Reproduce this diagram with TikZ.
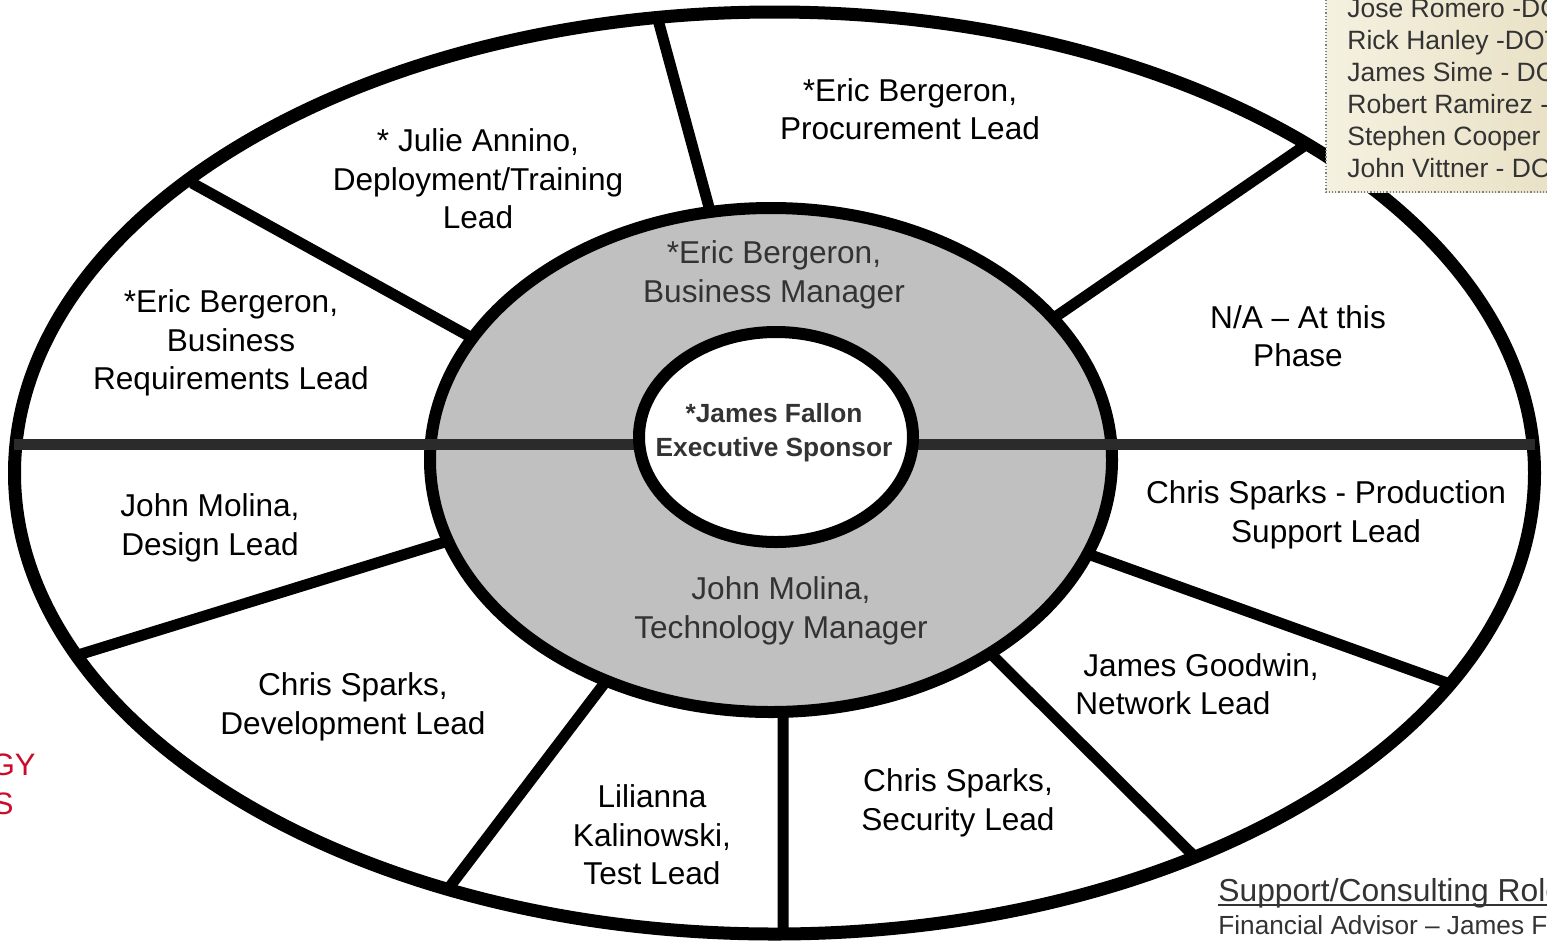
\documentclass[tikz,border=0pt]{standalone}
\usepackage{fontspec}
\setmainfont{Liberation Sans}
\usepackage{tikz}
\definecolor{grau}{HTML}{C0C0C0}
\definecolor{dunkel}{HTML}{2B2B2B}
\definecolor{schrift}{HTML}{333333}
\definecolor{rot}{HTML}{CC0A2A}
\definecolor{beigeA}{HTML}{F5F1E0}
\definecolor{beigeB}{HTML}{E8E0C4}

\begin{document}
\begin{tikzpicture}[x=0.5pt,y=-0.5pt]
\tikzstyle{every node}=[font=\fontsize{15.8}{19.25}\selectfont, align=center, inner sep=0pt]

%Rahmen
\fill[white] (0,0) rectangle (1547,944);
\useasboundingbox (0,0) rectangle (1547,944);

%Speichen
\coordinate (a1) at (657,16);   \coordinate (i1) at (713,222);
\coordinate (a2) at (1307,144); \coordinate (i2) at (1045,324);
\coordinate (a3) at (192,183);  \coordinate (i3) at (485,345);
\coordinate (a4) at (1450,684); \coordinate (i4) at (1074,549);
\coordinate (a5) at (1195,857); \coordinate (i5) at (980,643);
\coordinate (a6) at (783,934);  \coordinate (i6) at (783,700);
\coordinate (a7) at (448,889);  \coordinate (i7) at (613,672);
\coordinate (a8) at (78,655);   \coordinate (i8) at (461,537);
\draw[line width=5.5pt] (a1) -- (i1) (a2) -- (i2) (a3) -- (i3) (a4) -- (i4)
	(a5) -- (i5) (a6) -- (i6) (a7) -- (i7) (a8) -- (i8);

%Ellipsen
\draw[line width=6.5pt] (774.5,473) ellipse (760 and 461);
\draw[line width=6pt, fill=grau] (771,460) ellipse (341 and 252);
\coordinate (links) at (14,444); \coordinate (rechts) at (1535,444);
\draw[line width=5.5pt, dunkel] (links) -- (rechts);
\draw[line width=6pt, fill=white] (776,437) ellipse (137 and 105);

%Rollen aussen
\node (proc) at (910,109) {*Eric Bergeron,\\Procurement Lead};
\node (deploy) at (478,179) {* Julie Annino,\\Deployment/Training\\Lead};
\node (busreq) at (231,343) {*Eric Bergeron,\\Business\\Requirements Lead};
\node (na) at (1298,336) {N/A – At this\\Phase};
\node (design) at (210,528) {John Molina,\\Design Lead};
\node (prod) at (1326,515) {Chris Sparks - Production\\Support Lead};
\node (dev) at (353,707) {Chris Sparks,\\Development Lead};
\node[anchor=west, align=left] (net) at (1075,684) {\hspace{4pt}James Goodwin,\\Network Lead};
\node (sec) at (958,803) {Chris Sparks,\\Security Lead};
\node (test) at (652,835) {Lilianna\\Kalinowski,\\Test Lead};

%Rollen innen
\node[text=schrift] (busman) at (774,275) {*Eric Bergeron,\\Business Manager};
\node[text=schrift] (techman) at (781,611) {John Molina,\\Technology Manager};
\node[text=schrift, font=\fontsize{13.15}{17}\selectfont\bfseries] (exec) at (774,433) {*James Fallon\\Executive Sponsor};

%Kasten oben rechts
\draw[gray, densely dotted, line width=0.6pt, left color=beigeA, right color=beigeB] (1326,-10) rectangle (1570,192);
\node[anchor=west, align=left, text=schrift, font=\fontsize{13.25}{16}\selectfont] (dot) at (1347,88)
	{Jose Romero -DOT\\Rick Hanley -DOT\\James Sime - DOT\\Robert Ramirez - DOT\\Stephen Cooper - DOT\\John Vittner - DOT};

%Unten rechts
\node[anchor=base west, text=schrift, font=\fontsize{15.9}{19}\selectfont] (support) at (1218,901) {Support/Consulting Roles};
\draw[schrift, line width=1pt] ([yshift=-2pt]support.base west) -- ([yshift=-2pt]support.base east);
\node[anchor=base west, text=schrift, font=\fontsize{13.1}{16}\selectfont] (finanz) at (1218,934) {Financial Advisor – James F};

%Links rot
\node[anchor=base east, text=rot, font=\fontsize{15.5}{19}\selectfont] (rot1) at (36,775) {GY};
\node[anchor=base east, text=rot, font=\fontsize{15.5}{19}\selectfont] (rot2) at (14,814) {S};

\end{tikzpicture}
\end{document}
